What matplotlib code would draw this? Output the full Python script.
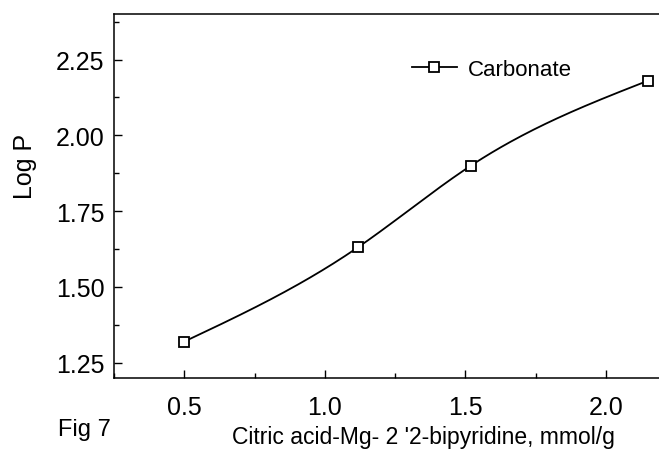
import numpy as np
import matplotlib
matplotlib.use('Agg')
from matplotlib import pyplot as plt
from matplotlib.ticker import MultipleLocator
from matplotlib.lines import Line2D

plt.rcParams['font.family'] = ['Liberation Sans', 'DejaVu Sans']

# data
conc = [0.5, 1.12, 1.52, 2.15]
logp = [1.32, 1.632, 1.90, 2.18]
series_name = 'Carbonate'
xlab = "Citric acid-Mg- 2 '2-bipyridine, mmol/g"
ylab = 'Log P'


def natural_spline(x, y, num=200):
    # smooth connecting curve through the measured points
    x = np.asarray(x, float)
    y = np.asarray(y, float)
    n = len(x)
    h = np.diff(x)
    A = np.zeros((n, n))
    b = np.zeros(n)
    A[0, 0] = 1
    A[-1, -1] = 1
    for i in range(1, n - 1):
        A[i, i - 1] = h[i - 1]
        A[i, i] = 2 * (h[i - 1] + h[i])
        A[i, i + 1] = h[i]
        b[i] = 6 * ((y[i + 1] - y[i]) / h[i] - (y[i] - y[i - 1]) / h[i - 1])
    m = np.linalg.solve(A, b)
    xs = np.linspace(x[0], x[-1], num)
    ys = np.zeros_like(xs)
    for k, xv in enumerate(xs):
        i = min(np.searchsorted(x, xv) - 1, n - 2)
        i = max(i, 0)
        t1 = x[i + 1] - xv
        t0 = xv - x[i]
        ys[k] = (m[i] * t1**3 + m[i + 1] * t0**3) / (6 * h[i]) \
            + (y[i] / h[i] - m[i] * h[i] / 6) * t1 \
            + (y[i + 1] / h[i] - m[i + 1] * h[i] / 6) * t0
    return xs, ys


fig = plt.figure(figsize=(6.59, 4.52), dpi=100)
ax = fig.add_axes([114 / 659, 73 / 452, 562 / 659, 364 / 452])

xs, ys = natural_spline(conc, logp)
ax.plot(xs, ys, color='black', lw=1.3)
ax.plot(conc, logp, ls='none', marker='s', ms=7, mfc='white', mec='black', mew=1.3)

ax.set_xlim(0.25, 2.25)
ax.set_ylim(1.20, 2.40)
ax.xaxis.set_major_locator(MultipleLocator(0.5))
ax.xaxis.set_minor_locator(MultipleLocator(0.25))
ax.yaxis.set_major_locator(MultipleLocator(0.25))
ax.yaxis.set_minor_locator(MultipleLocator(0.125))
ax.xaxis.set_major_formatter(matplotlib.ticker.FormatStrFormatter('%.1f'))
ax.yaxis.set_major_formatter(matplotlib.ticker.FormatStrFormatter('%.2f'))
ax.tick_params(which='both', direction='in', top=False, right=False, labelsize=18)
ax.tick_params(which='major', length=6, width=1)
ax.tick_params(which='minor', length=3.5, width=1)
ax.tick_params(axis='x', pad=12)
ax.tick_params(axis='y', pad=7)
for s in ax.spines.values():
    s.set_linewidth(1.1)

fig.text(25 / 659, 1 - 166 / 452, ylab, fontsize=18, rotation=90, ha='center', va='center')

handle = Line2D([], [], color='black', lw=1.3, marker='s', ms=7, mfc='white', mec='black', mew=1.3)
ax.legend([handle], [series_name], loc='upper left', bbox_to_anchor=(0.495, 0.932),
          frameon=False, fontsize=16, numpoints=1, handlelength=2.0, handletextpad=0.5)

fig.text(232 / 659, 3 / 452, xlab, fontsize=16.5, ha='left', va='bottom')
fig.text(58 / 659, 11 / 452, 'Fig 7', fontsize=17, ha='left', va='bottom')

fig.savefig('out.png', dpi=100)
